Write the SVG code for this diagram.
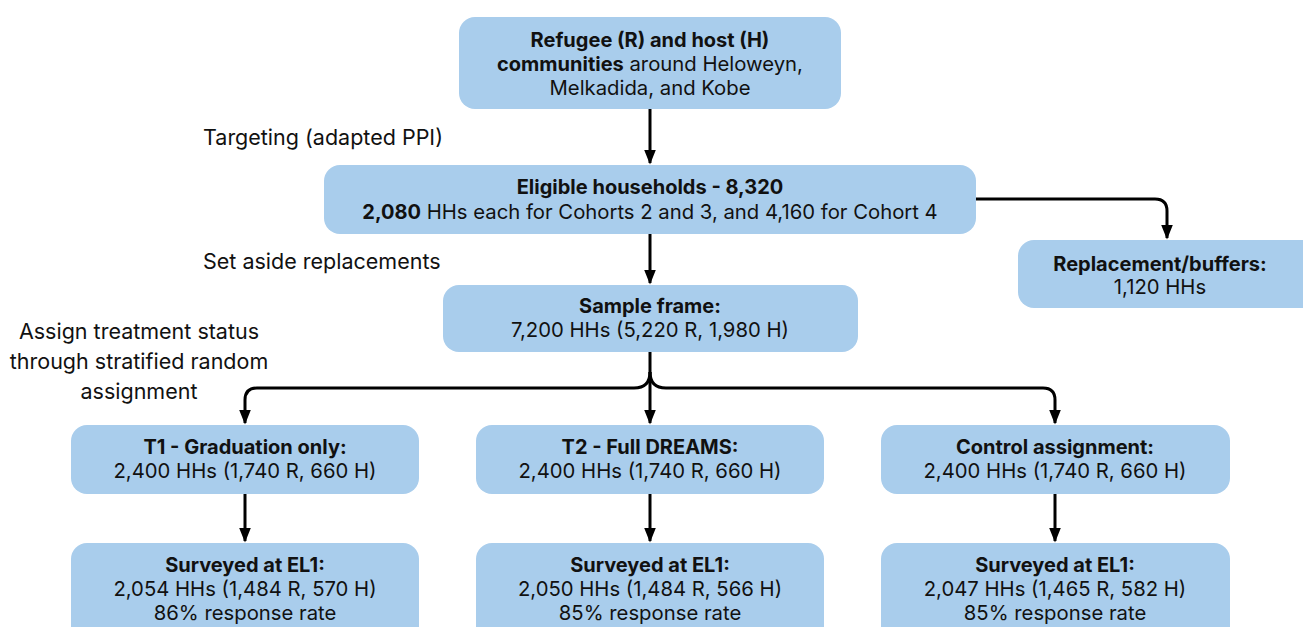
<svg xmlns="http://www.w3.org/2000/svg" width="1303" height="627" viewBox="0 0 1303 627">
<defs>
<marker id="ah" markerWidth="5" markerHeight="4" refX="4.5" refY="2" orient="auto" markerUnits="strokeWidth">
<path d="M0,0 L5,2 L0,4 Z" fill="#000"/>
</marker>
<style>
.box{fill:#a9cdec;}
text{font-family:Inter,"Noto Sans","Liberation Sans",sans-serif;font-size:20.3px;fill:#111;}
.c{text-anchor:middle;}
.b{font-weight:700;font-size:20px;}
.lbl{font-size:21.5px;}
.con{fill:none;stroke:#000;stroke-width:3;marker-end:url(#ah);}
</style>
</defs>
<rect width="1303" height="627" fill="#fff"/>
<g id="connectors">
<path class="con" d="M650,109 V163"/>
<path class="con" d="M650,234 V283"/>
<path class="con" d="M976,199 H1155 Q1167,199 1167,211 V238"/>
<path class="con" d="M650,352 V423"/>
<path class="con" d="M650,372 Q650,388 634,388 H257 Q245,388 245,400 V423"/>
<path class="con" d="M650,372 Q650,388 666,388 H1043 Q1055,388 1055,400 V423"/>
<path class="con" d="M245,494 V541"/>
<path class="con" d="M650,494 V541"/>
<path class="con" d="M1055,494 V541"/>
</g>
<g id="labels">
<text class="lbl" x="203" y="145">Targeting (adapted PPI)</text>
<text class="lbl" x="203" y="269">Set aside replacements</text>
<text class="lbl c" x="139" y="339">Assign treatment status</text>
<text class="lbl c" x="139" y="369">through stratified random</text>
<text class="lbl c" x="139" y="399">assignment</text>
</g>
<g id="n-communities">
<rect class="box" x="459" y="17" width="382" height="92" rx="16"/>
<text class="c b" x="650" y="47">Refugee (R) and host (H)</text>
<text class="c" x="650" y="71"><tspan class="b">communities</tspan> around Heloweyn,</text>
<text class="c" x="650" y="95">Melkadida, and Kobe</text>
</g>
<g id="n-eligible">
<rect class="box" x="324" y="165" width="652" height="69" rx="16"/>
<text class="c b" x="650" y="194">Eligible households - 8,320</text>
<text class="c" x="650" y="219"><tspan class="b">2,080</tspan> HHs each for Cohorts 2 and 3, and 4,160 for Cohort 4</text>
</g>
<g id="n-replacement">
<rect class="box" x="1018" y="240" width="300" height="68" rx="16"/>
<text class="c b" x="1160" y="271">Replacement/buffers:</text>
<text class="c" x="1160" y="294">1,120 HHs</text>
</g>
<g id="n-sample">
<rect class="box" x="443" y="285" width="415" height="67" rx="16"/>
<text class="c b" x="650" y="313">Sample frame:</text>
<text class="c" x="650" y="337">7,200 HHs (5,220 R, 1,980 H)</text>
</g>
<g id="n-t1">
<rect class="box" x="71" y="425" width="348" height="69" rx="16"/>
<text class="c b" x="245" y="454">T1 - Graduation only:</text>
<text class="c" x="245" y="478">2,400 HHs (1,740 R, 660 H)</text>
</g>
<g id="n-t2">
<rect class="box" x="476" y="425" width="348" height="69" rx="16"/>
<text class="c b" x="650" y="454">T2 - Full DREAMS:</text>
<text class="c" x="650" y="478">2,400 HHs (1,740 R, 660 H)</text>
</g>
<g id="n-control">
<rect class="box" x="881" y="425" width="349" height="69" rx="16"/>
<text class="c b" x="1055" y="454">Control assignment:</text>
<text class="c" x="1055" y="478">2,400 HHs (1,740 R, 660 H)</text>
</g>
<g id="n-s1">
<rect class="box" x="71" y="543" width="348" height="100" rx="16"/>
<text class="c b" x="245" y="572">Surveyed at EL1:</text>
<text class="c" x="245" y="596">2,054 HHs (1,484 R, 570 H)</text>
<text class="c" x="245" y="620">86% response rate</text>
</g>
<g id="n-s2">
<rect class="box" x="476" y="543" width="348" height="100" rx="16"/>
<text class="c b" x="650" y="572">Surveyed at EL1:</text>
<text class="c" x="650" y="596">2,050 HHs (1,484 R, 566 H)</text>
<text class="c" x="650" y="620">85% response rate</text>
</g>
<g id="n-s3">
<rect class="box" x="881" y="543" width="349" height="100" rx="16"/>
<text class="c b" x="1055" y="572">Surveyed at EL1:</text>
<text class="c" x="1055" y="596">2,047 HHs (1,465 R, 582 H)</text>
<text class="c" x="1055" y="620">85% response rate</text>
</g>
</svg>
